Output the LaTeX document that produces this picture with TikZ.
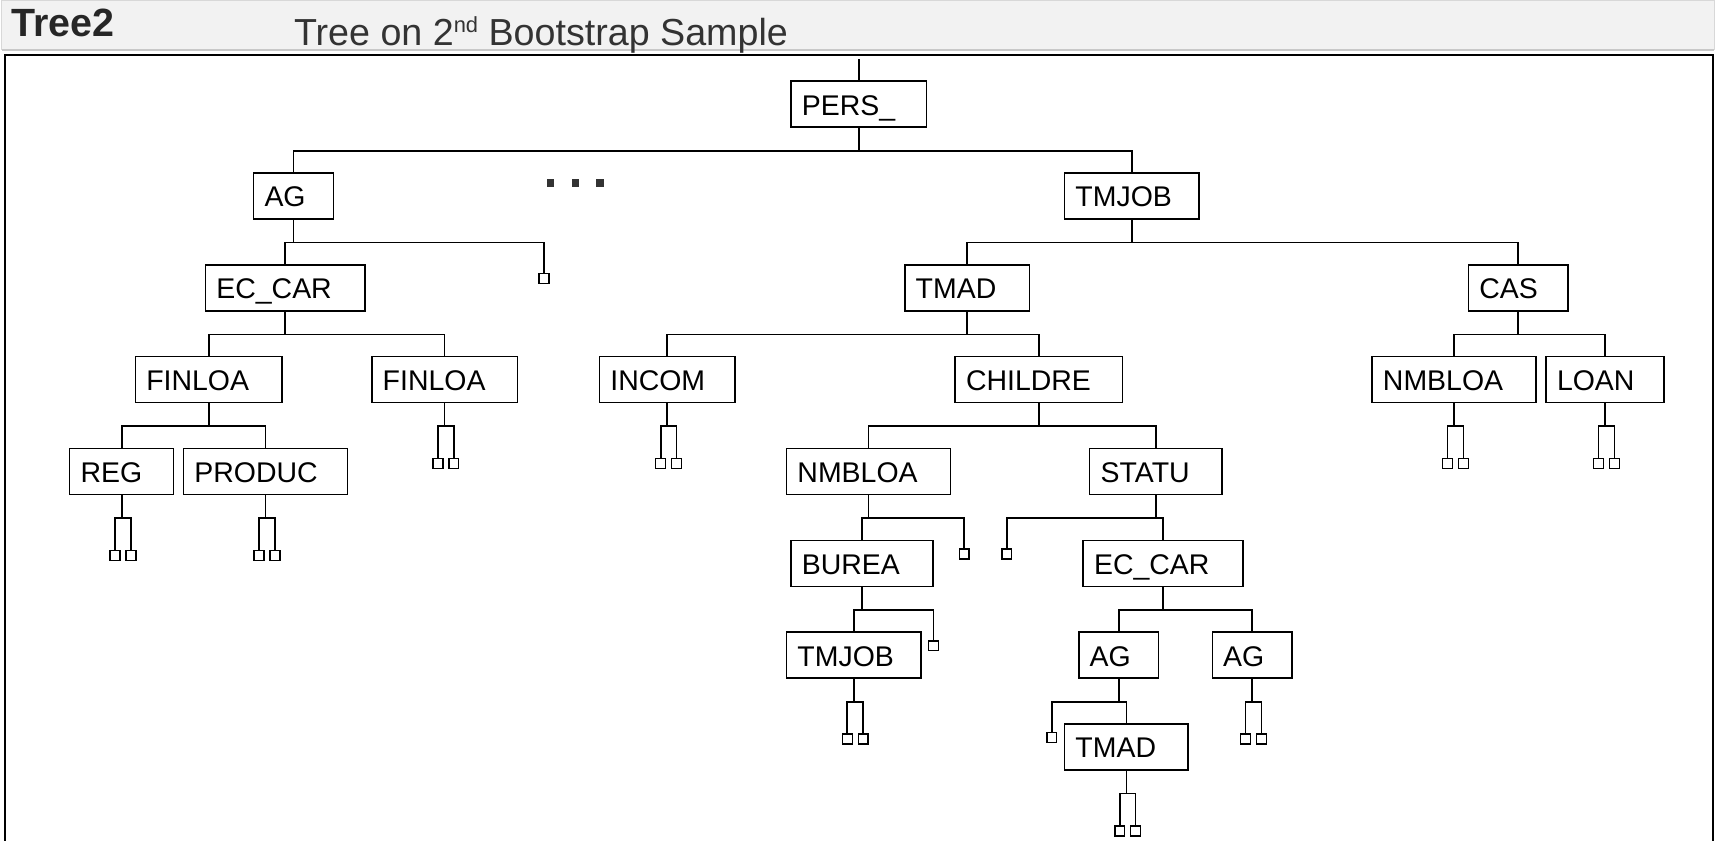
\documentclass[tikz,border=0pt]{standalone}
\usepackage{fontspec}
\setmainfont{Liberation Sans}
\definecolor{headfill}{HTML}{F2F2F2}
\definecolor{headedge}{HTML}{C8C8C8}
\definecolor{dotgray}{HTML}{333333}
\tikzset{
  tbox/.style={draw, line width=1.4pt, inner xsep=10pt, inner ysep=0pt,
    minimum height=42pt, anchor=north west, align=left,
    text height=21pt, text depth=1pt, font=\fontsize{26}{28}\selectfont},
  leaf/.style={draw, line width=1.3pt, minimum size=9pt, inner sep=0pt, anchor=north},
  tline/.style={line width=1.5pt}
}
% box: name, left x, top y, text width (box width - 20), label
\newcommand\tn[5]{\node[tbox, text width=#4pt] (#1) at (#2,#3) {#5};}
% parent-to-child connector through the bus line below the parent
\newcommand\link[2]{\draw[tline] (#1.south) -- ++(0,20.9) -| (#2.north);}
% two terminal leaves hanging from one split
\newcommand\fork[1]{%
  \node[leaf] (#1-l) at ([xshift=-6pt,yshift=-49.9pt]#1.south) {};
  \node[leaf] (#1-r) at ([xshift=8.5pt,yshift=-49.9pt]#1.south) {};
  \link{#1}{#1-l}\link{#1}{#1-r}}
\begin{document}
\begin{tikzpicture}[x=1pt,y=-1pt]
\useasboundingbox (0,0) rectangle (1568,768);
\fill[white] (0,0) rectangle (1568,768);

% title band
\fill[headfill] (1.5,0.5) rectangle (1566.5,45.5);
\draw[headedge!70, line width=0.8pt] (1.5,45.5) -- (1.5,0.5) -- (1566.5,0.5) -- (1566.5,45.5);
\draw[headedge, line width=1.8pt] (1.5,45.5) -- (1566.5,45.5);
\node[anchor=base west, inner sep=0pt, font=\bfseries\fontsize{36}{38}\selectfont, text=black!85] (tname) at (10,32.9) {Tree2};
\node[anchor=base west, inner sep=0pt, font=\fontsize{34.4}{36}\selectfont, text=black!80] (ttitle) at (268.5,41.8)
  {Tree on 2\raisebox{12pt}{\fontsize{20}{20}\selectfont nd} Bootstrap Sample};

% frame of the tree panel
\draw[line width=1.5pt] (4.8,768) -- (4.8,50) -- (1565.5,50) -- (1565.5,768);

% split nodes
\tn{pers}{722}{73.5}{104}{PERS\_}
\tn{agA}{231}{157.4}{53}{AG}
\tn{tmjobA}{972}{157.4}{103}{TMJOB}
\tn{eccarA}{187}{241.3}{126}{EC\_CAR}
\tn{tmadA}{826}{241.3}{94}{TMAD}
\tn{cas}{1341}{241.3}{71}{CAS}
\tn{finloaA}{123}{325.2}{114}{FINLOA}
\tn{finloaB}{339}{325.2}{113}{FINLOA}
\tn{incom}{547}{325.2}{104}{INCOM}
\tn{childre}{872}{325.2}{133}{CHILDRE}
\tn{nmbloaB}{1253}{325.2}{130}{NMBLOA}
\tn{loan}{1412}{325.2}{88}{LOAN}
\tn{reg}{63}{409.1}{75}{REG}
\tn{produc}{167}{409.1}{130}{PRODUC}
\tn{nmbloaA}{718}{409.1}{130}{NMBLOA}
\tn{statu}{995}{409.1}{101}{STATU}
\tn{burea}{722}{493.0}{110}{BUREA}
\tn{eccarB}{989}{493.0}{126}{EC\_CAR}
\tn{tmjobB}{718}{576.9}{103}{TMJOB}
\tn{agB}{985}{576.9}{53}{AG}
\tn{agC}{1107}{576.9}{53}{AG}
\tn{tmadB}{972}{660.8}{93}{TMAD}

% incoming branch of the root
\coordinate (rootin) at (pers.north |- 0,54);
\draw[tline] (rootin) -- (pers.north);

% branches between splits
\link{pers}{agA}\link{pers}{tmjobA}
\link{agA}{eccarA}
\link{tmjobA}{tmadA}\link{tmjobA}{cas}
\link{eccarA}{finloaA}\link{eccarA}{finloaB}
\link{tmadA}{incom}\link{tmadA}{childre}
\link{cas}{nmbloaB}\link{cas}{loan}
\link{finloaA}{reg}\link{finloaA}{produc}
\link{childre}{nmbloaA}\link{childre}{statu}
\link{nmbloaA}{burea}
\link{statu}{eccarB}
\link{burea}{tmjobB}
\link{eccarB}{agB}\link{eccarB}{agC}
\link{agB}{tmadB}

% single terminal leaves
\node[leaf] (lf1) at (497,249.3) {};   \link{agA}{lf1}
\node[leaf] (lf2) at (881,501.0) {};   \link{nmbloaA}{lf2}
\node[leaf] (lf3) at (920,501.0) {};   \link{statu}{lf3}
\node[leaf] (lf4) at (853,584.9) {};   \link{burea}{lf4}
\node[leaf] (lf5) at (961,668.8) {};   \link{agB}{lf5}

% paired terminal leaves
\fork{finloaB}\fork{incom}\fork{nmbloaB}\fork{loan}
\fork{reg}\fork{produc}
\fork{tmjobB}\fork{agC}
\fork{tmadB}

% elided subtree marker
\fill[dotgray] (499.5,163.3) rectangle ++(6.8,7.2);
\fill[dotgray] (522.4,163.3) rectangle ++(6.8,7.2);
\fill[dotgray] (544.9,163.3) rectangle ++(6.8,7.2);
\end{tikzpicture}
\end{document}
